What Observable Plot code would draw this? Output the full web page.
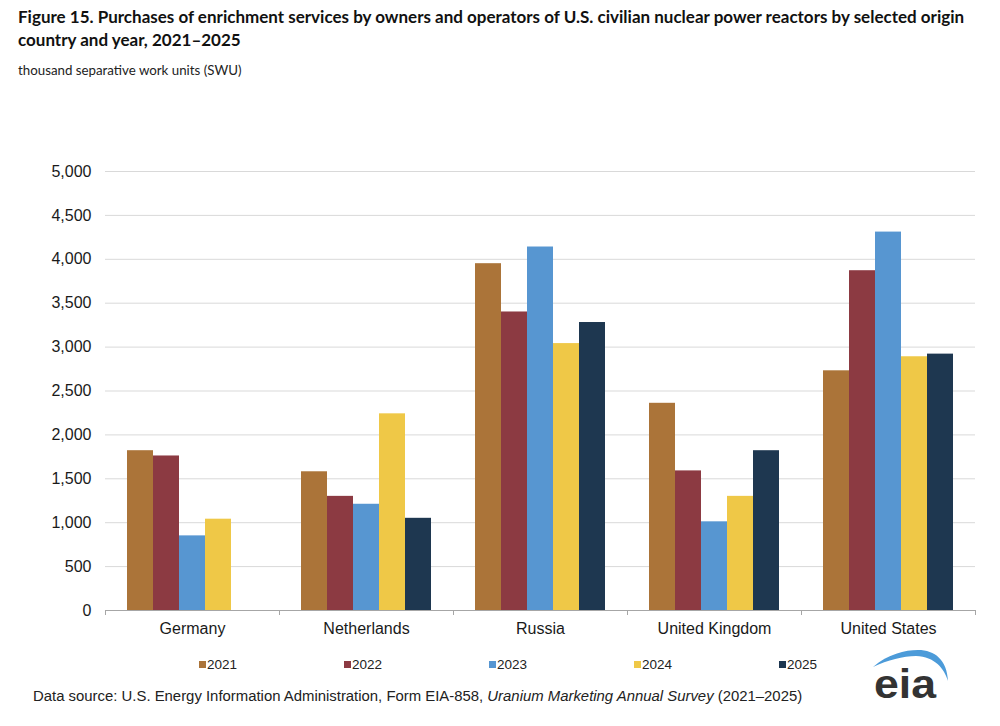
<!DOCTYPE html>
<html>
<head>
<meta charset="utf-8">
<script src="https://cdn.jsdelivr.net/npm/d3@7"></script>
<script src="https://cdn.jsdelivr.net/npm/@observablehq/plot@0.6"></script>
<style>
  body { margin: 0; background: #fff; }
  #page { position: relative; width: 1000px; height: 726px; background: #fff; overflow: hidden; }
  #title { position: absolute; left: 18px; top: 5px; width: 980px; font-family: Lato, "Open Sans", sans-serif; font-weight: bold; font-size: 17px; line-height: 23px; color: #111; white-space: nowrap; }
  #subtitle { position: absolute; left: 18px; top: 62px; font-family: Lato, "Open Sans", sans-serif; font-size: 13.3px; color: #222; }
  #chart { position: absolute; left: 0; top: 90px; }
  .leg { position: absolute; top: 657px; font-family: "Liberation Sans", Arial, sans-serif; font-size: 13.5px; color: #222; line-height: 16px; }
  .sw { display: inline-block; width: 7px; height: 7px; margin-right: 1px; vertical-align: 1px; }
  #source { position: absolute; left: 33px; top: 688px; font-family: "Liberation Sans", Arial, sans-serif; font-size: 14.9px; color: #222; white-space: nowrap; }
  #logo { position: absolute; left: 860px; top: 640px; }
</style>
</head>
<body>
<div id="page">
  <div id="title">Figure 15. Purchases of enrichment services by owners and operators of U.S. civilian nuclear power reactors by selected origin<br>country and year, 2021–2025</div>
  <div id="subtitle">thousand separative work units (SWU)</div>
  <div id="chart"></div>
  <div id="legend"></div>
  <div id="source">Data source: U.S. Energy Information Administration, Form EIA-858, <i>Uranium Marketing Annual Survey</i> (2021–2025)</div>
  <svg id="logo" width="100" height="70" viewBox="860 640 100 70">
    <path d="M873,667 C888,654 905,650 918,650 C935,650 947,660 948,681 C944,668 935,657 916,656 C903,656 888,660 873,667 Z" fill="#4c9bd9"/>
    <text x="874" y="698" font-family="Liberation Sans, Arial, sans-serif" font-size="41" font-weight="bold" fill="#333" textLength="62" lengthAdjust="spacingAndGlyphs">eia</text>
  </svg>
</div>
<script>
const countries = ["Germany", "Netherlands", "Russia", "United Kingdom", "United States"];
const years = ["2021", "2022", "2023", "2024", "2025"];
const v2021 = [1820, 1580, 3950, 2360, 2730];
const v2022 = [1760, 1300, 3400, 1590, 3870];
const v2023 = [850, 1210, 4140, 1010, 4310];
const v2024 = [1040, 2240, 3040, 1300, 2890];
const v2025 = [null, 1050, 3280, 1820, 2920];
const yTicks = [0, 500, 1000, 1500, 2000, 2500, 3000, 3500, 4000, 4500, 5000];
const colors = ["#ab7439", "#8c3a42", "#5796d1", "#efc847", "#1e3750"];

const series = [v2021, v2022, v2023, v2024, v2025];
const data = [];
countries.forEach((c, i) => {
  years.forEach((y, j) => {
    const v = series[j][i];
    if (v != null) data.push({country: c, year: y, value: v});
  });
});

const W = 1000, ML = 105, MR = 25;
const half = (W - ML - MR) / countries.length / 2;

const plot = Plot.plot({
  width: W,
  height: 560,
  marginTop: 81,
  marginBottom: 40,
  marginLeft: ML,
  marginRight: MR,
  style: {fontFamily: "'Liberation Sans', Arial, sans-serif", fontSize: "16px", color: "#1a1a1a", background: "white", overflow: "visible"},
  fx: {domain: countries, padding: 0, label: null, axis: null},
  x: {domain: years, paddingInner: 0, paddingOuter: 0.75, axis: null},
  y: {domain: [0, 5000], label: null, axis: null},
  color: {domain: years, range: colors},
  marks: [
    Plot.gridY(yTicks, {stroke: "#d9d9d9", strokeOpacity: 1}),
    Plot.axisY(yTicks, {tickFormat: d3.format(","), tickSize: 0, tickPadding: 14, fontSize: 16, label: null}),
    Plot.barY(data, {fx: "country", x: "year", y: "value", fill: "year"}),
    Plot.ruleY([0], {stroke: "#a6a6a6"}),
    Plot.axisFx({anchor: "bottom", tickSize: 0, tickPadding: 12, fontSize: 16, label: null}),
    Plot.axisFx({anchor: "bottom", tickSize: 5, text: null, dx: -half, stroke: "#a6a6a6", label: null}),
    Plot.axisFx({anchor: "bottom", tickSize: 5, text: null, dx: half, stroke: "#a6a6a6", label: null})
  ]
});
document.getElementById("chart").appendChild(plot);

const legendX = [199, 344, 489, 634, 779];
const legend = document.getElementById("legend");
years.forEach((y, i) => {
  const d = document.createElement("div");
  d.className = "leg";
  d.style.left = legendX[i] + "px";
  d.innerHTML = `<span class="sw" style="background:${colors[i]}"></span>${y}`;
  legend.appendChild(d);
});
</script>
</body>
</html>
